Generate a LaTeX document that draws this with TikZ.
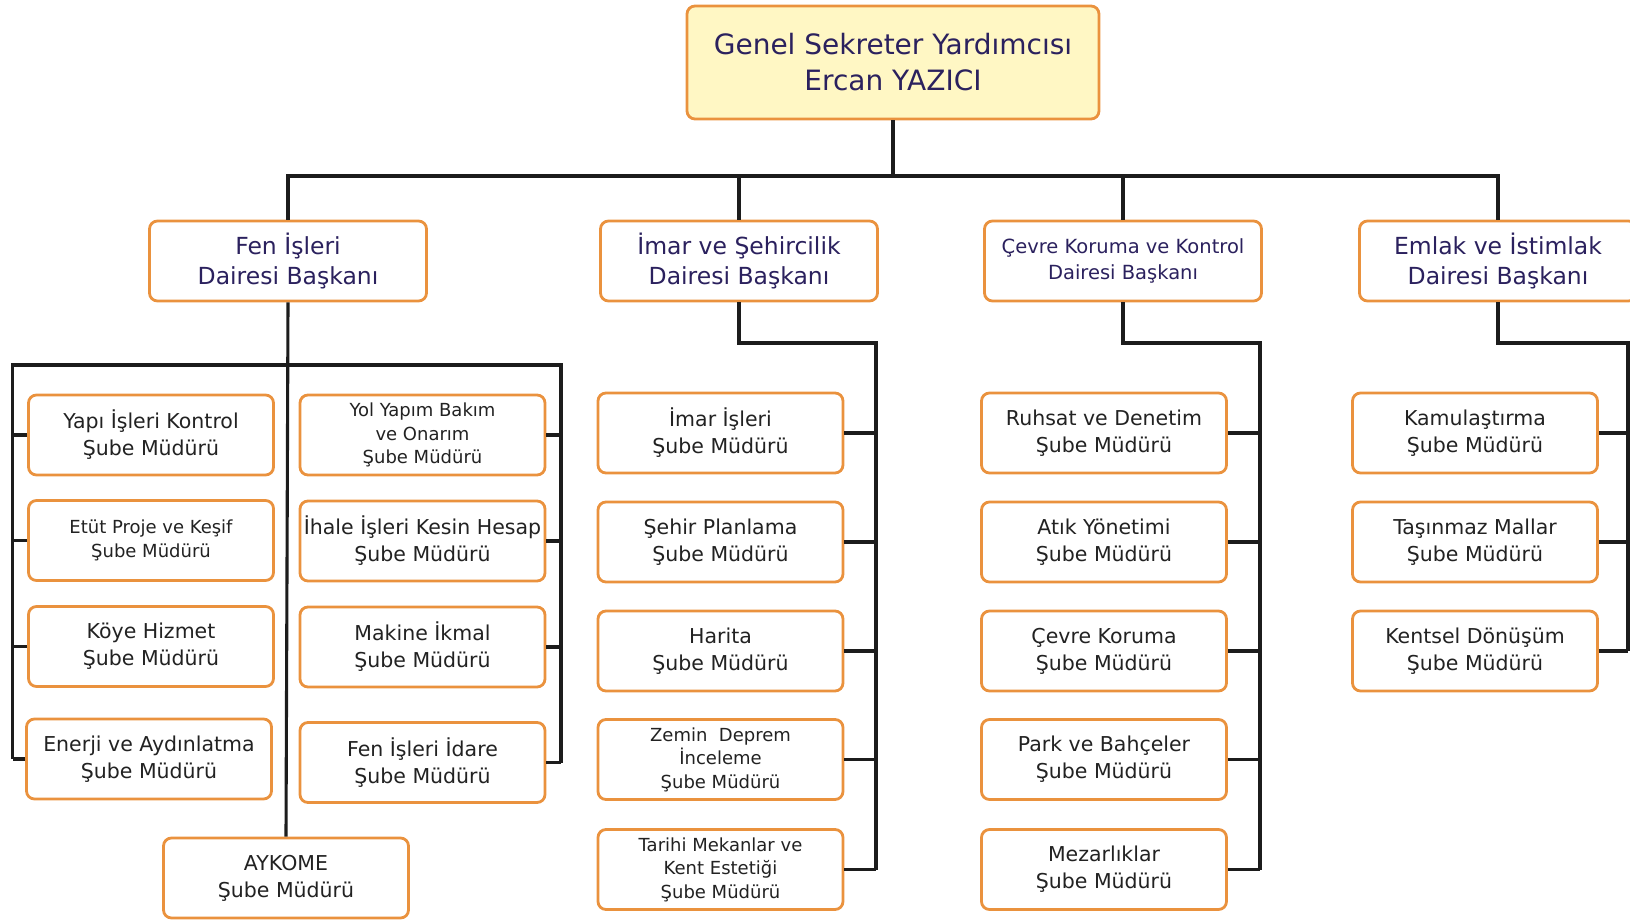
\documentclass[tikz,border=0pt]{standalone}
\usepackage{fontspec}
\setmainfont{DejaVu Sans}
\definecolor{boxorange}{RGB}{234,146,62}
\definecolor{topfill}{RGB}{255,247,196}
\definecolor{navy}{RGB}{43,33,94}
\definecolor{subtext}{RGB}{34,34,34}
\definecolor{linec}{RGB}{28,28,28}
\tikzset{
  basebox/.style={draw=boxorange, line width=2.8pt, rounded corners=8pt, fill=white, align=center, inner sep=0pt},
  topbox/.style={basebox, fill=topfill, minimum width=412pt, minimum height=113pt, text=navy, font=\fontsize{28}{36}\selectfont},
  deptbox/.style={basebox, minimum width=277pt, minimum height=80pt, text=navy, font=\fontsize{23.5}{30}\selectfont},
  deptsmall/.style={deptbox, font=\fontsize{19.5}{26}\selectfont},
  subbox/.style={basebox, minimum width=245pt, minimum height=80pt, text=subtext, font=\fontsize{20.5}{27}\selectfont},
  subsmall/.style={subbox, font=\fontsize{18}{23.5}\selectfont},
  conn/.style={draw=linec, line width=3.1pt},
}
\begin{document}
\begin{tikzpicture}[x=1pt,y=-1pt]
\useasboundingbox (0,0) rectangle (1630,920);
% top
\node[topbox] (top) at (893,62.5) {Genel Sekreter Yardımcısı\\Ercan YAZICI};
% departments
\node[deptbox] (fen) at (288,261) {Fen İşleri\\Dairesi Başkanı};
\node[deptbox] (imar) at (739,261) {İmar ve Şehircilik\\Dairesi Başkanı};
\node[deptsmall] (cevre) at (1123,261) {Çevre Koruma ve Kontrol\\Dairesi Başkanı};
\node[deptbox] (emlak) at (1498,261) {Emlak ve İstimlak\\Dairesi Başkanı};
% Fen left
\node[subbox] (yapi) at (151,435) {Yapı İşleri Kontrol\\Şube Müdürü};
\node[subsmall] (etut) at (151,540.5) {Etüt Proje ve Keşif\\Şube Müdürü};
\node[subbox] (koye) at (151,646.5) {Köye Hizmet\\Şube Müdürü};
\node[subbox] (enerji) at (149,759) {Enerji ve Aydınlatma\\Şube Müdürü};
% Fen right
\node[subsmall] (yol) at (422.5,435) {Yol Yapım Bakım\\ve Onarım\\Şube Müdürü};
\node[subbox] (ihale) at (422.5,541) {İhale İşleri Kesin Hesap\\Şube Müdürü};
\node[subbox] (makine) at (422.5,647) {Makine İkmal\\Şube Müdürü};
\node[subbox] (idare) at (422.5,762.5) {Fen İşleri İdare\\Şube Müdürü};
\node[subbox] (aykome) at (286,878) {AYKOME\\Şube Müdürü};
% Imar
\node[subbox] (imarisleri) at (720.5,433) {İmar İşleri\\Şube Müdürü};
\node[subbox] (sehir) at (720.5,542) {Şehir Planlama\\Şube Müdürü};
\node[subbox] (harita) at (720.5,651) {Harita\\Şube Müdürü};
\node[subsmall] (zemin) at (720.5,759.5) {Zemin\ \ Deprem\\İnceleme\\Şube Müdürü};
\node[subsmall] (tarihi) at (720.5,869.5) {Tarihi Mekanlar ve\\Kent Estetiği\\Şube Müdürü};
% Cevre
\node[subbox] (ruhsat) at (1104,433) {Ruhsat ve Denetim\\Şube Müdürü};
\node[subbox] (atik) at (1104,542) {Atık Yönetimi\\Şube Müdürü};
\node[subbox] (cevrek) at (1104,651) {Çevre Koruma\\Şube Müdürü};
\node[subbox] (park) at (1104,759.5) {Park ve Bahçeler\\Şube Müdürü};
\node[subbox] (mezar) at (1104,869.5) {Mezarlıklar\\Şube Müdürü};
% Emlak
\node[subbox] (kamu) at (1475,433) {Kamulaştırma\\Şube Müdürü};
\node[subbox] (tasin) at (1475,542) {Taşınmaz Mallar\\Şube Müdürü};
\node[subbox] (kentsel) at (1475,651) {Kentsel Dönüşüm\\Şube Müdürü};

% main bus
\coordinate (mbus) at (0,176);
\draw[conn] (top.south) -- (top.south |- mbus);
\draw[conn] (fen.north) -- (fen.north |- mbus) -- (emlak.north |- mbus) -- (emlak.north);
\draw[conn] (imar.north) -- (imar.north |- mbus);
\draw[conn] (cevre.north) -- (cevre.north |- mbus);

% Fen structure
\coordinate (fl) at (12.5,365);
\coordinate (fr) at (561,365);
\draw[conn] (fen.south) -- (aykome.north);
\draw[conn] (fl |- enerji.west) -- (fl) -- (fr) -- (fr |- idare.east);
\foreach \n in {yapi,etut,koye,enerji} \draw[conn] (\n.west) -- (\n.west -| fl);
\foreach \n in {yol,ihale,makine,idare} \draw[conn] (\n.east) -- (\n.east -| fr);

% Imar structure
\coordinate (ib) at (876,343);
\draw[conn] (imar.south) |- (ib) -- (ib |- tarihi.east);
\foreach \n in {imarisleri,sehir,harita,zemin,tarihi} \draw[conn] (\n.east) -- (\n.east -| ib);

% Cevre structure
\coordinate (cb) at (1260,343);
\draw[conn] (cevre.south) |- (cb) -- (cb |- mezar.east);
\foreach \n in {ruhsat,atik,cevrek,park,mezar} \draw[conn] (\n.east) -- (\n.east -| cb);

% Emlak structure
\coordinate (eb) at (1628,343);
\draw[conn] (emlak.south) |- (eb) -- (eb |- kentsel.east);
\foreach \n in {kamu,tasin,kentsel} \draw[conn] (\n.east) -- (\n.east -| eb);
\end{tikzpicture}
\end{document}
